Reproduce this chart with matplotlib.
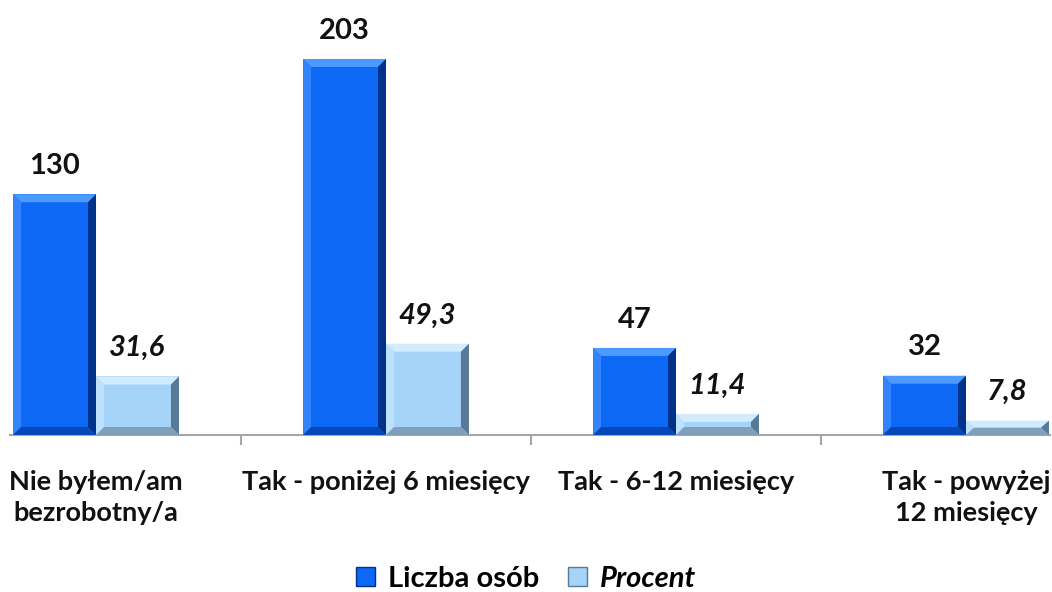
import matplotlib.pyplot as plt
from matplotlib.patches import Polygon, Patch

categories = ['Nie byłem/am\nbezrobotny/a', 'Tak - poniżej 6 miesięcy',
              'Tak - 6-12 miesięcy', 'Tak - powyżej\n12 miesięcy']
liczba = [130, 203, 47, 32]
procent = [31.6, 49.3, 11.4, 7.8]
procent_labels = ['31,6', '49,3', '11,4', '7,8']

plt.rcParams['font.family'] = ['Lato', 'DejaVu Sans']

fig = plt.figure(figsize=(10.52, 5.92), dpi=100)
ax = fig.add_axes([10 / 1052, 157 / 592, 1040 / 1052, 426 / 592])
ax.set_xlim(-0.2966, 3.2897)
ax.set_ylim(0, 230)

w = 0.286
x = list(range(len(categories)))
dark = {'face': '#0d68f5', 'top': '#4d9aff', 'left': '#3383fb',
        'right': '#00328a', 'bottom': '#0648b8'}
light = {'face': '#a6d3f8', 'top': '#d2ebff', 'left': '#bde0fc',
         'right': '#587a96', 'bottom': '#7f9fbb'}

b1 = ax.bar([i - w / 2 for i in x], liczba, w, color=dark['face'], zorder=2)
b2 = ax.bar([i + w / 2 for i in x], procent, w, color=light['face'], zorder=2)


def bevel(bars, col, px=8):
    # px -> data units
    sx = (ax.get_xlim()[1] - ax.get_xlim()[0]) / 1040
    sy = (ax.get_ylim()[1] - ax.get_ylim()[0]) / 426
    for r in bars:
        x0, y0 = r.get_x(), r.get_y()
        x1, y1 = x0 + r.get_width(), y0 + r.get_height()
        bx = px * sx
        by = min(px * sy, r.get_height() / 2)
        ix0, ix1, iy0, iy1 = x0 + bx, x1 - bx, y0 + by, y1 - by
        faces = [('top', [(x0, y1), (x1, y1), (ix1, iy1), (ix0, iy1)]),
                 ('left', [(x0, y0), (x0, y1), (ix0, iy1), (ix0, iy0)]),
                 ('right', [(x1, y0), (x1, y1), (ix1, iy1), (ix1, iy0)]),
                 ('bottom', [(x0, y0), (x1, y0), (ix1, iy0), (ix0, iy0)])]
        for k, pts in faces:
            ax.add_patch(Polygon(pts, closed=True, facecolor=col[k],
                                 edgecolor='none', zorder=3))


bevel(b1, dark)
bevel(b2, light)

for r, v in zip(b1, liczba):
    ax.annotate(str(v), (r.get_x() + r.get_width() / 2, r.get_height()),
                xytext=(0, 11), textcoords='offset points', ha='center',
                va='bottom', fontsize=21, fontweight='bold', color='#111111')
for r, s in zip(b2, procent_labels):
    ax.annotate(s, (r.get_x() + r.get_width() / 2, r.get_height()),
                xytext=(0, 11), textcoords='offset points', ha='center',
                va='bottom', fontsize=21, fontweight='bold', style='italic',
                color='#111111')

for sp in ['top', 'left', 'right']:
    ax.spines[sp].set_visible(False)
ax.spines['bottom'].set_color('#a6a6a6')
ax.spines['bottom'].set_linewidth(1.5)
ax.set_yticks([])
ax.set_xticks([0.5, 1.5, 2.5])
ax.set_xticklabels([])
ax.tick_params(axis='x', which='major', length=7, width=1.5, color='#a6a6a6')
ax.set_xticks(x, categories, minor=True)
ax.tick_params(axis='x', which='minor', length=0, pad=25, labelsize=19.5)
for t in ax.get_xticklabels(minor=True):
    t.set_fontweight('bold')
    t.set_linespacing(1.35)
    t.set_color('#111111')

handles = [Patch(facecolor=dark['face'], edgecolor=dark['right']),
           Patch(facecolor=light['face'], edgecolor=light['right'])]
leg = fig.legend(handles, ['Liczba osób', 'Procent'], loc='center',
                 bbox_to_anchor=(0.5, 1 - 579 / 592), ncol=2, frameon=False,
                 fontsize=21, handlelength=0.65, handleheight=0.65,
                 handletextpad=0.45, columnspacing=1.0)
for t in leg.get_texts():
    t.set_fontweight('bold')
leg.get_texts()[1].set_style('italic')

fig.savefig('out.png', dpi=100)
